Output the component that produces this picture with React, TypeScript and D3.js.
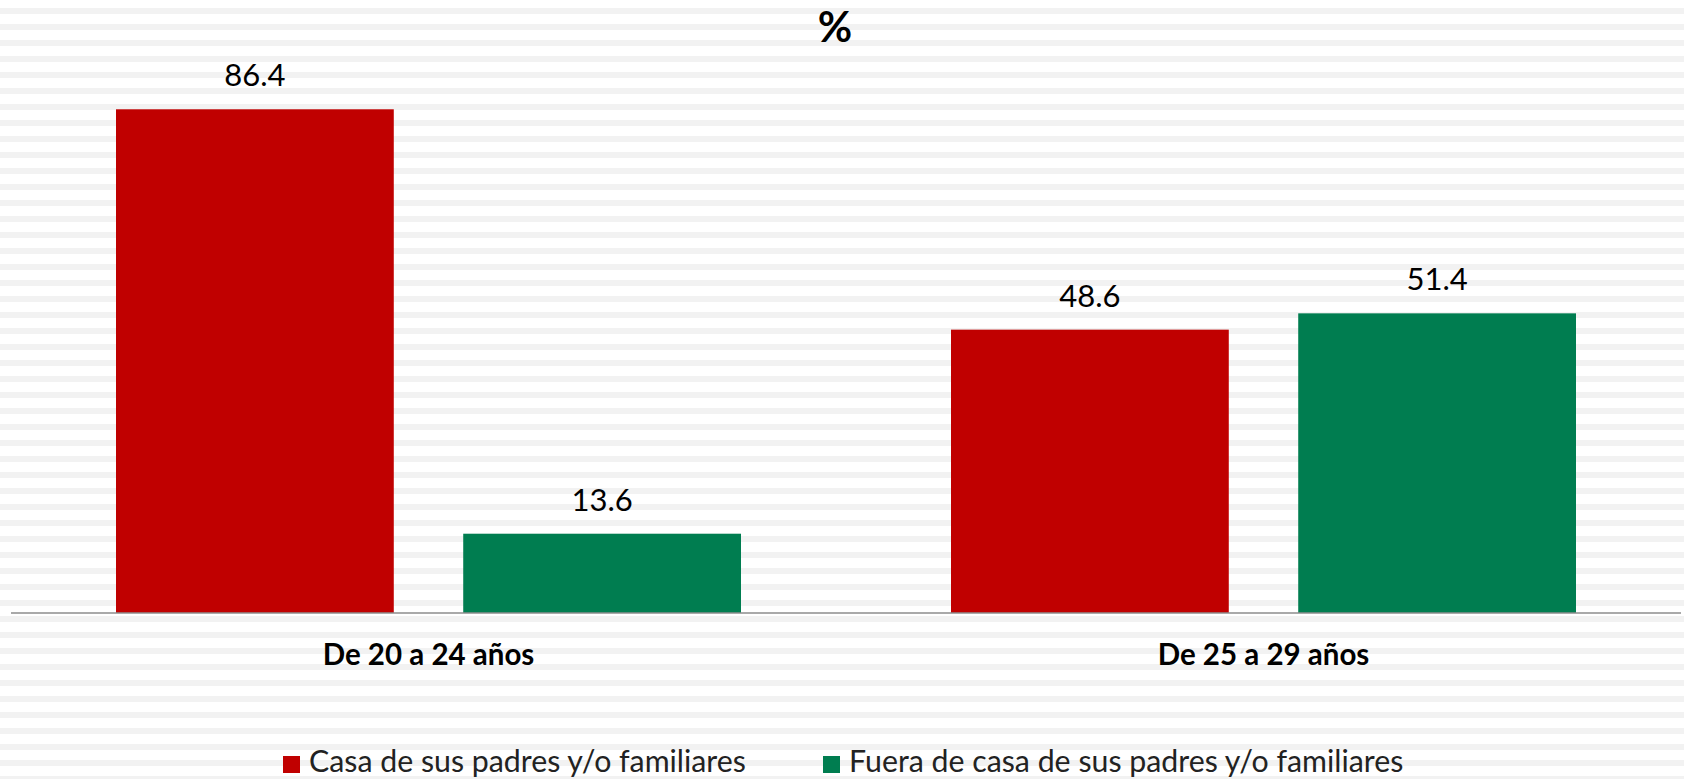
import React from 'react';
import * as d3 from 'd3';

const categories = ['De 20 a 24 años', 'De 25 a 29 años'];
const seriesNames = ['Casa de sus padres y/o familiares', 'Fuera de casa de sus padres y/o familiares'];
const casaValues = [86.4, 48.6];
const fueraValues = [13.6, 51.4];
const seriesColors = ['#C00000', '#007D50'];

const W = 1684;
const H = 779;
const FONT = 'Lato, Calibri, "Noto Sans", sans-serif';

export default function App() {
  const x0 = d3.scaleBand<string>().domain(categories).range([11, 1681]);
  const x1 = d3.scaleBand<string>()
    .domain(seriesNames)
    .range([105, x0.bandwidth() - 105])
    .paddingInner(0.2);
  const y = d3.scaleLinear().domain([0, 100]).range([613, 30]);

  const values = [casaValues, fueraValues];
  const bars = categories.flatMap((c, i) =>
    seriesNames.map((s, j) => ({ c, s, v: values[j][i], color: seriesColors[j] }))
  );

  // background stripes
  const stripes = d3.range(8, H, 16);

  const legendItems = [
    { name: seriesNames[0], color: seriesColors[0], x: 283 },
    { name: seriesNames[1], color: seriesColors[1], x: 823 },
  ];

  return (
    <svg
      width={W}
      height={H}
      style={{ position: 'absolute', left: 0, top: 0, display: 'block', background: '#fff' }}
      fontFamily={FONT}
    >
      {stripes.map(s => (
        <rect key={s} x={0} y={s} width={W} height={6} fill="#f2f2f2" />
      ))}

      <text x={835} y={42} textAnchor="middle" fontSize={42} fontWeight="bold" fill="#000">%</text>

      {bars.map(b => {
        const bx = (x0(b.c) as number) + (x1(b.s) as number);
        return (
          <g key={b.c + b.s}>
            <rect x={bx} y={y(b.v)} width={x1.bandwidth()} height={y(0) - y(b.v)} fill={b.color} />
            <text x={bx + x1.bandwidth() / 2} y={y(b.v) - 23} textAnchor="middle" fontSize={31} fill="#000">
              {b.v.toFixed(1)}
            </text>
          </g>
        );
      })}

      <line x1={11} x2={1681} y1={y(0)} y2={y(0)} stroke="#8c8c8c" strokeWidth={1.5} />

      {categories.map(c => (
        <text
          key={c}
          x={(x0(c) as number) + x0.bandwidth() / 2}
          y={665}
          textAnchor="middle"
          fontSize={29.5}
          fontWeight="bold"
          fill="#000"
        >
          {c}
        </text>
      ))}

      {legendItems.map(l => (
        <g key={l.name}>
          <rect x={l.x} y={756} width={17} height={17} fill={l.color} />
          <text x={l.x + 26} y={772} fontSize={30.3} fill="#222">{l.name}</text>
        </g>
      ))}
    </svg>
  );
}
